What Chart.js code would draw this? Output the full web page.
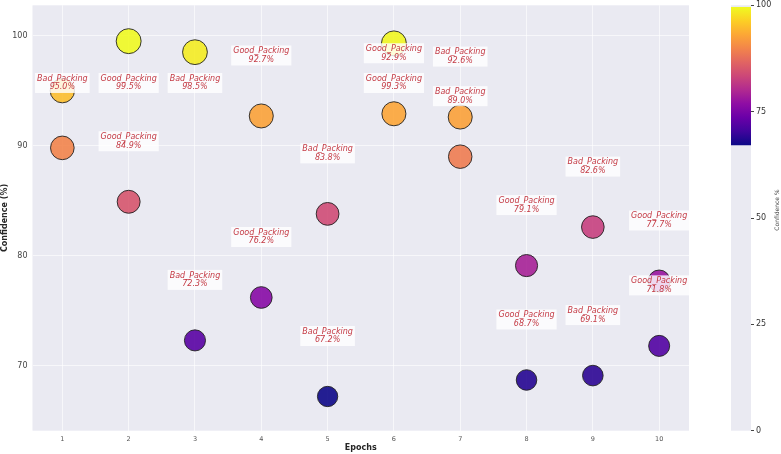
<!DOCTYPE html>
<html><head><meta charset="utf-8">
<script src="https://cdn.jsdelivr.net/npm/chart.js@4.4.0/dist/chart.umd.min.js"></script>
<style>
html,body{margin:0;padding:0;background:#fff;}
#wrap{position:relative;width:781px;height:454px;overflow:hidden;}
#main{position:absolute;left:0;top:0;}
#cbar{position:absolute;left:700px;top:0;}
</style></head><body>
<div id="wrap">
<canvas id="main" width="781" height="454"></canvas>
<canvas id="cbar" width="81" height="454"></canvas>
</div>
<script>
// ---- data ----
const epochs = [1,1,2,2,3,3,4,4,5,5,6,6,7,7,8,8,9,9,10,10];
const confidence = [95.0,89.8,99.5,84.9,98.5,72.3,92.7,76.2,83.8,67.2,99.3,92.9,92.6,89.0,79.1,68.7,82.6,69.1,77.7,71.8];
const classes = ['Bad_Packing',null,'Good_Packing','Good_Packing','Bad_Packing','Bad_Packing',
  'Good_Packing','Good_Packing','Bad_Packing','Bad_Packing','Good_Packing','Good_Packing',
  'Bad_Packing','Bad_Packing','Good_Packing','Good_Packing','Bad_Packing','Bad_Packing',
  'Good_Packing','Good_Packing'];
const xTicks = [1,2,3,4,5,6,7,8,9,10];
const yTicks = [70,80,90,100];
const cbarTicks = [0,25,50,75,100];

// ---- style helpers ----
const PLASMA = [[13,8,135],[65,4,157],[106,0,168],[143,13,164],[177,42,144],[204,71,120],
  [225,100,98],[242,132,75],[252,166,54],[252,206,37],[240,249,33]];
function plasma(t){
  t = Math.max(0, Math.min(1, t));
  const s = t*10, i = Math.min(9, Math.floor(s)), f = s - i;
  const a = PLASMA[i], b = PLASMA[i+1];
  return [0,1,2].map(k => Math.round(a[k] + (b[k]-a[k])*f));
}
const vmin = Math.min(...confidence), vmax = Math.max(...confidence);
const FONT = 'DejaVu Sans';

const bgPlugin = {
  id: 'bg',
  beforeDraw(chart){
    const a = chart.chartArea, c = chart.ctx;
    c.save(); c.fillStyle = '#EAEAF2';
    c.fillRect(a.left, a.top, a.right - a.left, a.bottom - a.top);
    c.restore();
  }
};

// label anchor: 5.5 units above the point, moved down below the top when it would pass 100
const labelAnchor = v => (v + 5.5 > 100 ? 95.7 : v + 5.5);

const labelPlugin = {
  id: 'labels',
  afterDatasetsDraw(chart){
    const c = chart.ctx, xs = chart.scales.x, ys = chart.scales.y;
    c.save();
    c.font = 'italic 8px "' + FONT + '"';
    c.textAlign = 'center'; c.textBaseline = 'middle';
    classes.forEach((lab, i) => {
      if (!lab) return;
      const px = xs.getPixelForValue(epochs[i]);
      const py = ys.getPixelForValue(labelAnchor(confidence[i]));
      const l2 = confidence[i].toFixed(1) + '%';
      const w = Math.max(c.measureText(lab).width, c.measureText(l2).width) + 4;
      const h = 20;
      c.fillStyle = 'rgba(255,255,255,0.82)';
      c.fillRect(px - w/2, py - h/2, w, h);
      c.fillStyle = 'rgb(196,58,68)';
      c.fillText(lab, px, py - 4.3);
      c.fillText(l2, px, py + 4.4);
    });
    c.restore();
  }
};

const radiusFn = ctx => 1.3*Math.sqrt(confidence[ctx.dataIndex]) - 0.5;
const noPad = s => { s.paddingTop = 0; s.paddingBottom = 0; };

new Chart(document.getElementById('main'), {
  type: 'scatter',
  data: { datasets: [{
    data: epochs.map((e, i) => ({ x: e, y: confidence[i] })),
    pointRadius: radiusFn,
    pointHoverRadius: radiusFn,
    pointBackgroundColor: ctx => 'rgba(' + plasma((confidence[ctx.dataIndex]-vmin)/(vmax-vmin)).join(',') + ',0.9)',
    pointBorderColor: 'rgba(35,35,35,0.9)',
    pointBorderWidth: 1
  }]},
  options: {
    responsive: false, animation: false, devicePixelRatio: 1,
    layout: { autoPadding: false, padding: { top: 5.3, right: 92, bottom: 0, left: 0 } },
    plugins: { legend: { display: false }, tooltip: { enabled: false } },
    scales: {
      x: {
        type: 'linear', min: 0.55, max: 10.45,
        afterBuildTicks: s => { s.ticks = xTicks.map(v => ({ value: v })); },
        afterFit: s => { s.height = 23.3; },
        grid: { color: 'rgba(255,255,255,0.75)', lineWidth: 0.8, drawTicks: false },
        border: { display: false },
        ticks: { padding: 5, color: '#555', font: { family: FONT, size: 6.5 } },
        title: { display: true, text: 'Epochs', color: '#262626',
                 font: { family: FONT, size: 8, weight: 'bold' }, padding: { top: 0, bottom: 1 } }
      },
      y: {
        type: 'linear', min: 64.09, max: 102.76,
        afterBuildTicks: s => { s.ticks = yTicks.map(v => ({ value: v })); },
        afterFit: s => { s.width = 32.5; noPad(s); },
        grid: { color: 'rgba(255,255,255,0.75)', lineWidth: 0.8, drawTicks: false },
        border: { display: false },
        ticks: { padding: 5, color: '#444', font: { family: FONT, size: 8 } },
        title: { display: true, text: 'Confidence (%)', color: '#262626',
                 font: { family: FONT, size: 8, weight: 'bold' }, padding: { top: 0, bottom: 0 } }
      }
    }
  },
  plugins: [bgPlugin, labelPlugin]
});

const cbTitlePlugin = {
  id: 'cbtitle',
  afterDraw(chart){
    const c = chart.ctx;
    c.save();
    c.translate(77, 210);
    c.rotate(-Math.PI/2);
    c.font = '6px "' + FONT + '"';
    c.fillStyle = '#444';
    c.textAlign = 'center'; c.textBaseline = 'middle';
    c.fillText('Confidence %', 0, 0);
    c.restore();
  }
};

new Chart(document.getElementById('cbar'), {
  type: 'bar',
  data: { labels: [''], datasets: [{
    data: [[vmin, vmax]],
    backgroundColor: ctx => {
      const ch = ctx.chart;
      if (!ch.chartArea) return '#888';
      const y = ch.scales.y;
      const g = ch.ctx.createLinearGradient(0, y.getPixelForValue(vmin), 0, y.getPixelForValue(vmax));
      PLASMA.forEach((col, i) => g.addColorStop(i/10, 'rgb(' + col.join(',') + ')'));
      return g;
    },
    barPercentage: 1, categoryPercentage: 1, borderWidth: 0, borderSkipped: false
  }]},
  options: {
    responsive: false, animation: false, devicePixelRatio: 1,
    layout: { autoPadding: false, padding: { top: 5.3, bottom: 23.3, left: 31, right: 0 } },
    plugins: { legend: { display: false }, tooltip: { enabled: false } },
    scales: {
      x: { display: false },
      y: {
        position: 'right', min: 0, max: 100,
        afterBuildTicks: s => { s.ticks = cbarTicks.map(v => ({ value: v })); },
        afterFit: s => { s.width = 30; noPad(s); },
        grid: { drawOnChartArea: false, drawTicks: true, tickLength: 3, color: '#444' },
        border: { display: false },
        ticks: { padding: 2, color: '#333', font: { family: FONT, size: 8 } }
      }
    }
  },
  plugins: [bgPlugin, cbTitlePlugin]
});
</script>
</body></html>
